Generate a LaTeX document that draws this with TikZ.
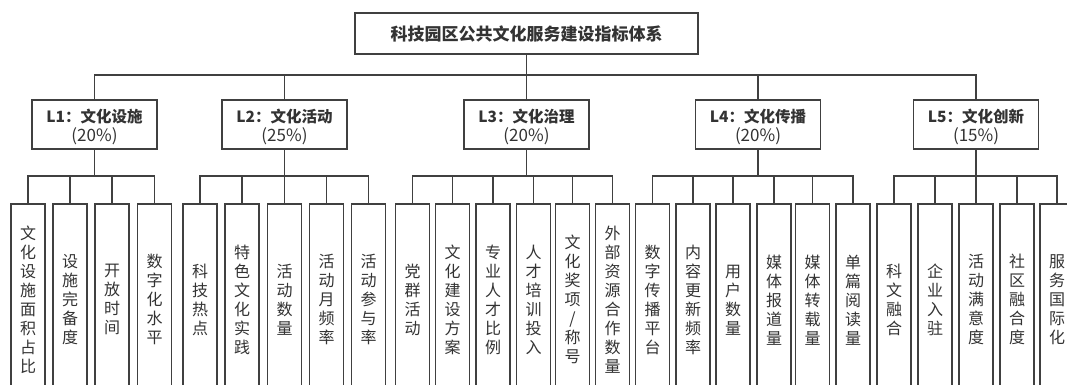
\documentclass[tikz,border=0pt]{standalone}
\usepackage{fontspec}
\setmainfont{Noto Sans CJK SC}
\definecolor{ln}{HTML}{404040}
\definecolor{tx}{HTML}{333333}
\newcommand{\cattext}[2]{\rule{0pt}{19pt}\bfseries #1\\{\fontsize{17}{19}\selectfont(#2\%)}}
\begin{document}
\begin{tikzpicture}[x=1pt,y=-1pt,
  conn/.style={draw=ln,line width=1.4pt},
  topbox/.style={draw=ln,line width=1.4pt,minimum width=343pt,minimum height=41pt,inner sep=0pt,text=tx,font=\fontsize{17}{20}\selectfont\bfseries},
  catbox/.style={draw=ln,line width=1.4pt,minimum width=125pt,minimum height=49pt,inner sep=0pt,text=tx,align=center,font=\fontsize{15.5}{19}\selectfont},
  leaf/.style={draw=ln,line width=1.6pt,anchor=north,minimum width=34pt,minimum height=192pt,inner sep=0pt,text=tx,align=center,font=\fontsize{16}{19}\selectfont}]
\useasboundingbox (0,0) rectangle (1067,385);
\clip (0,0) rectangle (1067,385);
\fill[white] (0,0) rectangle (1067,385);
\coordinate (busA) at (0,75);
\coordinate (busB) at (0,176);
\node[topbox] (top) at (526.5,33.5) {科技园区公共文化服务建设指标体系};
\node[catbox] (c1) at (94.5,124.5) {\cattext{L1：文化设施}{20}};
\node[catbox] (c2) at (284.5,124.5) {\cattext{L2：文化活动}{25}};
\node[catbox] (c3) at (526.5,124.5) {\cattext{L3：文化治理}{20}};
\node[catbox] (c4) at (758,124.5) {\cattext{L4：文化传播}{20}};
\node[catbox] (c5) at (976,124.5) {\cattext{L5：文化创新}{15}};
\foreach \c in {c1,c2,c3,c4,c5}
  \draw[conn] (\c.north) -- (\c.north |- busA) -| (top.south);
% leaves
\node[leaf] (n1) at (28,203) {文\\化\\设\\施\\面\\积\\占\\比};
\node[leaf] (n2) at (70,203) {设\\施\\完\\备\\度};
\node[leaf] (n3) at (112,203) {开\\放\\时\\间};
\node[leaf] (n4) at (154.5,203) {数\\字\\化\\水\\平};
\node[leaf] (n5) at (200,203) {科\\技\\热\\点};
\node[leaf] (n6) at (242,203) {特\\色\\文\\化\\实\\践};
\node[leaf] (n7) at (284.5,203) {活\\动\\数\\量};
\node[leaf] (n8) at (326.5,203) {活\\动\\月\\频\\率};
\node[leaf] (n9) at (368.5,203) {活\\动\\参\\与\\率};
\node[leaf] (n10) at (412.5,203) {党\\群\\活\\动};
\node[leaf] (n11) at (452.5,203) {文\\化\\建\\设\\方\\案};
\node[leaf] (n12) at (493,203) {专\\业\\人\\才\\比\\例};
\node[leaf] (n13) at (533.5,203) {人\\才\\培\\训\\投\\入};
\node[leaf] (n14) at (572.5,203) {文\\化\\奖\\项\\/\\称\\号};
\node[leaf] (n15) at (612.5,203) {外\\部\\资\\源\\合\\作\\数\\量};
\node[leaf] (n16) at (652.5,203) {数\\字\\传\\播\\平\\台};
\node[leaf] (n17) at (693,203) {内\\容\\更\\新\\频\\率};
\node[leaf] (n18) at (733,203) {用\\户\\数\\量};
\node[leaf] (n19) at (774,203) {媒\\体\\报\\道\\量};
\node[leaf] (n20) at (812.5,203) {媒\\体\\转\\载\\量};
\node[leaf] (n21) at (853,203) {单\\篇\\阅\\读\\量};
\node[leaf] (n22) at (894,203) {科\\文\\融\\合};
\node[leaf] (n23) at (935,203) {企\\业\\入\\驻};
\node[leaf] (n24) at (976,203) {活\\动\\满\\意\\度};
\node[leaf] (n25) at (1017,203) {社\\区\\融\\合\\度};
\node[leaf] (n26) at (1057,203) {服\\务\\国\\际\\化};
\foreach \n in {1,2,3,4} \draw[conn] (n\n.north) -- (n\n.north |- busB) -| (c1.south);
\foreach \n in {5,...,9} \draw[conn] (n\n.north) -- (n\n.north |- busB) -| (c2.south);
\foreach \n in {10,...,15} \draw[conn] (n\n.north) -- (n\n.north |- busB) -| (c3.south);
\foreach \n in {16,...,21} \draw[conn] (n\n.north) -- (n\n.north |- busB) -| (c4.south);
\foreach \n in {22,...,26} \draw[conn] (n\n.north) -- (n\n.north |- busB) -| (c5.south);
\end{tikzpicture}
\end{document}
